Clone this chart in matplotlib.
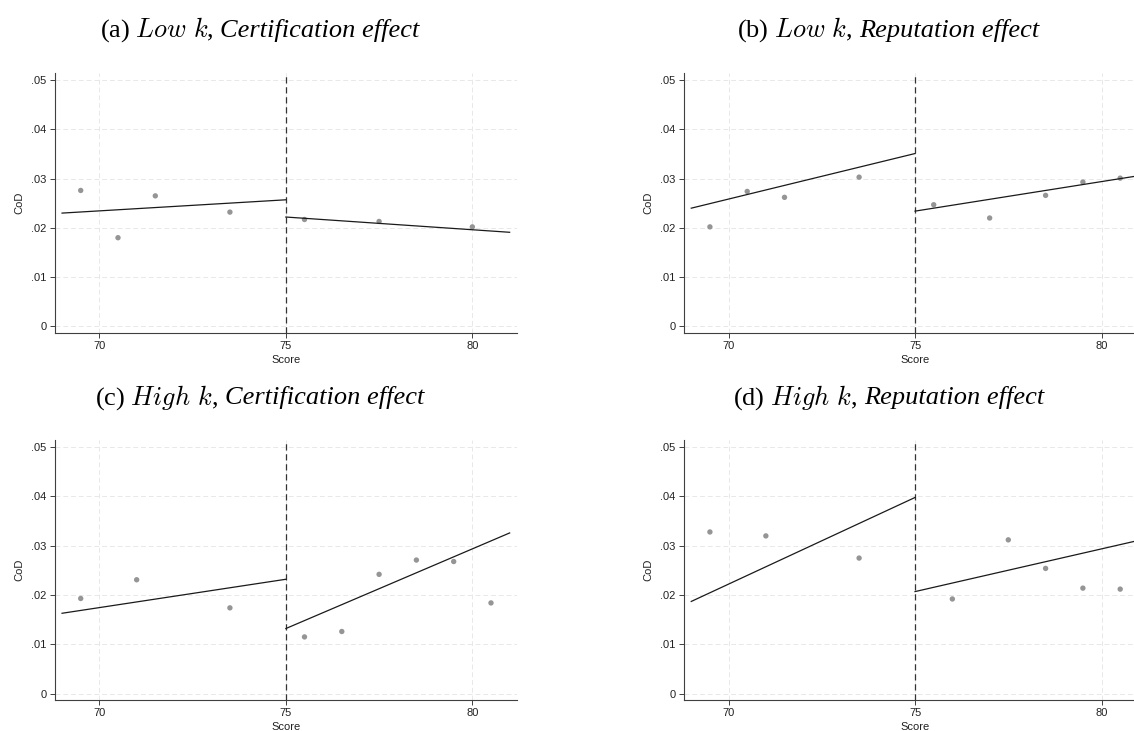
import numpy as np
import matplotlib
matplotlib.use("Agg")
import matplotlib.pyplot as plt

plt.rcParams["mathtext.fontset"] = "cm"
plt.rcParams["font.family"] = "Liberation Sans"

# panel titles: (label, math part, italic text part)
panel_labels = ["(a)", "(b)", "(c)", "(d)"]
panel_math = [r"Low\ k", r"Low\ k", r"High\ k", r"High\ k"]
panel_effect = ["Certification effect", "Reputation effect",
                "Certification effect", "Reputation effect"]

# binned scatter points
score_a = [69.5, 70.5, 71.5, 73.5, 75.5, 77.5, 80.0]
cod_a = [0.0276, 0.0180, 0.0265, 0.0232, 0.0217, 0.0213, 0.0202]
score_b = [69.5, 70.5, 71.5, 73.5, 75.5, 77.0, 78.5, 79.5, 80.5]
cod_b = [0.0202, 0.0274, 0.0262, 0.0303, 0.0247, 0.0220, 0.0266, 0.0293, 0.0301]
score_c = [69.5, 71.0, 73.5, 75.5, 76.5, 77.5, 78.5, 79.5, 80.5]
cod_c = [0.0193, 0.0231, 0.0174, 0.0115, 0.0126, 0.0242, 0.0271, 0.0268, 0.0184]
score_d = [69.5, 71.0, 73.5, 76.0, 77.5, 78.5, 79.5, 80.5]
cod_d = [0.0328, 0.0320, 0.0275, 0.0192, 0.0312, 0.0254, 0.0214, 0.0212]

# linear fits each side of the cutoff (values at the segment ends)
cutoff = 75
fit_left_x = [69, 75]
fit_right_x = [75, 81]
fit_left = [[0.0230, 0.0257], [0.0240, 0.0351], [0.0163, 0.0232], [0.0187, 0.0398]]
fit_right = [[0.0222, 0.0191], [0.0234, 0.0306], [0.0132, 0.0326], [0.0207, 0.0311]]

xticks = [70, 75, 80]
yticks = [0, 0.01, 0.02, 0.03, 0.04, 0.05]
ytick_labels = ["0", ".01", ".02", ".03", ".04", ".05"]

scores = [score_a, score_b, score_c, score_d]
cods = [cod_a, cod_b, cod_c, cod_d]

W, H = 1134, 731
fig = plt.figure(figsize=(W / 100, H / 100), dpi=100)

# axes boxes in pixels: left, top, right, bottom
boxes = [(54.6, 73.3, 517.1, 332.7), (683.8, 73.3, 1146.3, 332.7),
         (54.6, 440.3, 517.1, 700.0), (683.8, 440.3, 1146.3, 700.0)]
title_center = [259.5, 888.0, 259.8, 888.8]
title_base = [36.7, 36.7, 404.3, 404.3]
title_size = 19

axes = []
for i in range(4):
    l, t, r, b = boxes[i]
    ax = fig.add_axes([l / W, 1 - b / H, (r - l) / W, (b - t) / H])
    ax.set_xlim(68.8, 81.2)
    ax.set_ylim(-0.0013, 0.0514)
    ax.set_xticks(xticks)
    ax.set_yticks(yticks)
    ax.set_yticklabels(ytick_labels)
    ax.grid(True, color="#e8e8e8", linestyle=(0, (5, 3)), linewidth=0.7)
    ax.set_axisbelow(True)
    for s in ["top", "right"]:
        ax.spines[s].set_visible(False)
    for s in ["left", "bottom"]:
        ax.spines[s].set_color("#404040")
        ax.spines[s].set_linewidth(0.8)
    ax.tick_params(length=3.5, width=0.7, color="#404040", labelsize=8,
                   labelcolor="#222222", pad=2.5)
    ax.set_xlabel("Score", fontsize=8, color="#222222", labelpad=3)
    ax.set_ylabel("CoD", fontsize=8, color="#222222", labelpad=5)

    ax.axvline(cutoff, color="#333333", linestyle=(0, (5, 3)), linewidth=0.9)
    ax.scatter(scores[i], cods[i], s=15, color="#959595", edgecolors="none", zorder=3)
    ax.plot(fit_left_x, fit_left[i], color="#1a1a1a", linewidth=0.9, zorder=4)
    ax.plot(fit_right_x, fit_right[i], color="#1a1a1a", linewidth=0.9, zorder=4)
    axes.append(ax)

# titles: upright label + math part, then italic serif text, centred as a whole
fig.canvas.draw()
renderer = fig.canvas.get_renderer()
gap = 0.25 * title_size * 100 / 72
for i in range(4):
    yb = 1 - title_base[i] / H
    t1 = fig.text(0, yb, panel_labels[i] + " $" + panel_math[i] + "$,",
                  fontsize=title_size, family="Liberation Serif", va="baseline", ha="left")
    t2 = fig.text(0, yb, panel_effect[i], fontsize=title_size, family="Liberation Serif",
                  style="italic", va="baseline", ha="left")
    w1 = t1.get_window_extent(renderer).width + gap
    w2 = t2.get_window_extent(renderer).width
    x0 = title_center[i] - (w1 + w2) / 2
    t1.set_x(x0 / W)
    t2.set_x((x0 + w1) / W)

fig.savefig("out.png", dpi=100)
